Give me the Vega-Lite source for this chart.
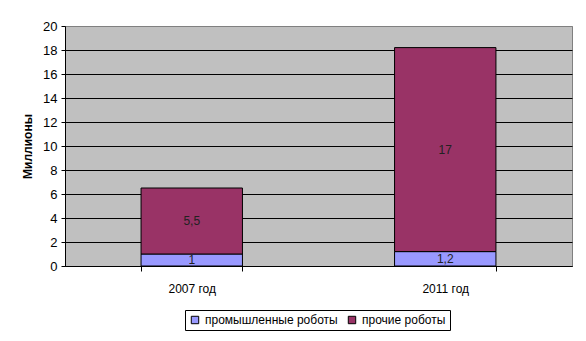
{
  "$schema": "https://vega.github.io/schema/vega-lite/v6.json",
  "width": 507,
  "height": 240,
  "autosize": {"type": "none"},
  "padding": {"left": 65, "top": 26, "right": 14, "bottom": 75},
  "background": "white",
  "config": {
    "font": "Liberation Sans",
    "locale": {"number": {"decimal": ",", "thousands": " ", "grouping": [3], "currency": ["", ""]}},
    "view": {"fill": "#C0C0C0", "stroke": "#808080", "strokeWidth": 1},
    "axisY": {
      "tickCount": 20,
      "labelOverlap": false,
      "labelFontSize": 13, "labelColor": "black", "labelPadding": 4,
      "tickSize": 4, "tickColor": "black", "domainColor": "black",
      "gridColor": {"condition": {"test": "datum.value == 20", "value": "#808080"}, "value": "black"},
      "gridOpacity": 1,
      "titleFontSize": 12, "titleFontWeight": "bold", "titleColor": "black", "titlePadding": 8
    }
  },
  "data": {
    "values": [
      {"year": "2007 год", "type": "промышленные роботы", "value": 1},
      {"year": "2007 год", "type": "прочие роботы", "value": 5.5},
      {"year": "2011 год", "type": "промышленные роботы", "value": 1.2},
      {"year": "2011 год", "type": "прочие роботы", "value": 17}
    ]
  },
  "transform": [
    {"stack": "value", "groupby": ["year"], "sort": [{"field": "type", "order": "ascending"}], "as": ["v0", "v1"]},
    {"calculate": "(datum.v0 + datum.v1) / 2", "as": "mid"}
  ],
  "encoding": {
    "x": {
      "field": "year", "type": "nominal", "title": null,
      "scale": {"paddingInner": 0.6, "paddingOuter": 0.3},
      "axis": {
        "labelAngle": 0, "labelFontSize": 12, "labelColor": "black", "labelPadding": 12,
        "tickBand": "extent", "tickSize": 5, "tickColor": "black",
        "domainColor": "black", "grid": false
      }
    }
  },
  "layer": [
    {
      "mark": {"type": "bar", "stroke": "black", "strokeWidth": 1},
      "encoding": {
        "y": {
          "field": "v0", "type": "quantitative",
          "scale": {"domain": [0, 20], "nice": false},
          "title": "Миллионы",
          "axis": {"values": [0, 2, 4, 6, 8, 10, 12, 14, 16, 18, 20], "tickCount": 20}
        },
        "y2": {"field": "v1"},
        "color": {
          "field": "type", "type": "nominal", "title": null,
          "scale": {"domain": ["промышленные роботы", "прочие роботы"], "range": ["#9999FF", "#993366"]},
          "legend": {
            "orient": "none", "legendX": 120, "legendY": 284, "direction": "horizontal",
            "strokeColor": "black", "padding": 4, "fillColor": "white",
            "symbolType": "square", "symbolSize": 55, "symbolStrokeColor": "black", "symbolStrokeWidth": 1,
            "labelFontSize": 12, "labelColor": "black", "columnPadding": 8, "labelOffset": 4
          }
        }
      }
    },
    {
      "mark": {"type": "text", "fontSize": 12, "color": "#222222"},
      "encoding": {
        "y": {"field": "mid", "type": "quantitative", "title": "Миллионы",
              "axis": {"values": [0, 2, 4, 6, 8, 10, 12, 14, 16, 18, 20], "tickCount": 20}},
        "text": {"field": "value", "type": "quantitative", "format": ".1~f"}
      }
    }
  ]
}
